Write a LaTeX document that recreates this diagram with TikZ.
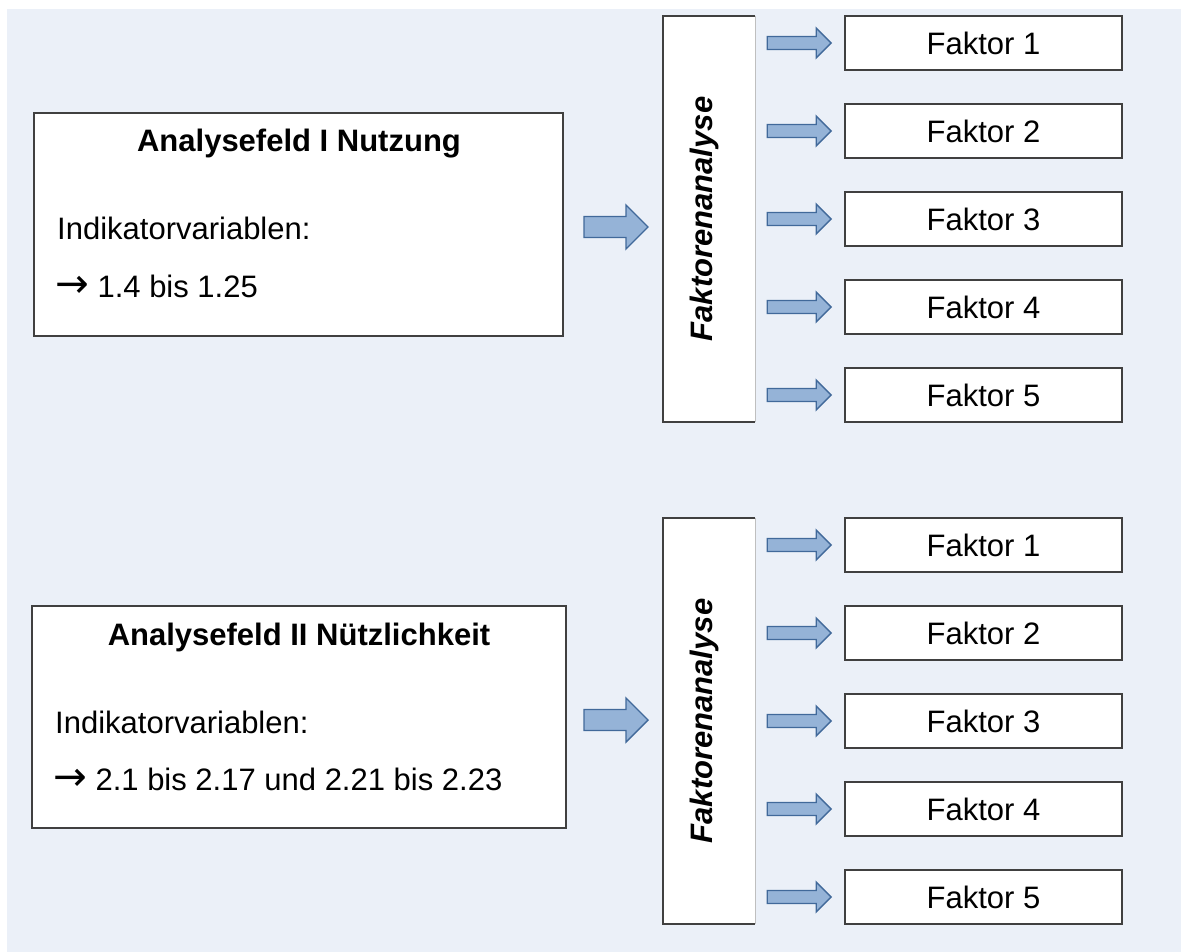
\documentclass[tikz,border=0pt]{standalone}
\usepackage{fontspec}
\setmainfont{Liberation Sans}
\newfontfamily\symfont{DejaVu Sans}
\usetikzlibrary{calc}
\definecolor{bgpanel}{HTML}{EBF0F8}
\definecolor{boxline}{HTML}{404040}
\definecolor{sideline}{HTML}{BFBFBF}
\definecolor{arrowfill}{HTML}{95B3D7}
\definecolor{arrowline}{HTML}{41699A}
\newcommand\txtsize{\fontsize{31}{37}\selectfont}
\newcommand\rarr{\scalebox{1.3}{\symfont →}}
\tikzset{
  panelbox/.style={draw=boxline, line width=1.6pt, fill=white, inner sep=0pt},
  faktorbox/.style={panelbox, minimum width=277pt, minimum height=54pt, font=\txtsize},
  fabox/.style={fill=white, inner sep=0pt, minimum width=92pt, minimum height=406pt},
  label/.style={inner sep=0pt, font=\txtsize},
  blockarrow/.style={fill=arrowfill, draw=arrowline, line width=1.4pt, line join=miter},
  pics/smallarrow/.style={code={
    \path[blockarrow] (0,-6.5) -- (49,-6.5) -- (49,-15) -- (64,0) -- (49,15) -- (49,6.5) -- (0,6.5) -- cycle;}},
  pics/bigarrow/.style={code={
    \path[blockarrow] (0,-10.5) -- (42,-10.5) -- (42,-22) -- (64,0) -- (42,22) -- (42,10.5) -- (0,10.5) -- cycle;}},
}
\begin{document}
\begin{tikzpicture}[x=1pt, y=-1pt]
\useasboundingbox (0,0) rectangle (1181,952);
% light panel behind everything
\fill[bgpanel] (7,9) rectangle (1181,952);

% ---- upper group: Analysefeld I ----
\node[panelbox, minimum width=529pt, minimum height=223pt] (feld1) at (298.5,224.5) {};
\node[label, anchor=base, font=\txtsize\bfseries] (t1) at (299,152) {Analysefeld I Nutzung};
\node[label, anchor=base west] (i1) at (57,240) {Indikatorvariablen:};
\node[label, anchor=base west] (r1) at (55,297) {\rarr\ 1.4 bis 1.25};

\node[fabox] (fa1) at (709,219) {};
\draw[boxline, line width=1.6pt] (fa1.north east) -- (fa1.north west) -- (fa1.south west) -- (fa1.south east);
\draw[sideline, line width=1.2pt] (fa1.north east) -- (fa1.south east);
\node[label, rotate=90, font=\txtsize\bfseries\itshape] at (704,219) {Faktorenanalyse};

\pic at (584,227) {bigarrow};

\foreach \k [count=\i from 0] in {1,...,5} {
  \node[faktorbox] (f1\k) at (983.5,43+88*\i) {Faktor \k};
  \pic at ($(f1\k.west)+(-77,0)$) {smallarrow};
}

% ---- lower group: Analysefeld II ----
\node[panelbox, minimum width=534pt, minimum height=222pt] (feld2) at (299,717) {};
\node[label, anchor=base, font=\txtsize\bfseries] (t2) at (299,645) {Analysefeld II Nützlichkeit};
\node[label, anchor=base west] (i2) at (55,733) {Indikatorvariablen:};
\node[label, anchor=base west] (r2) at (53,790) {\rarr\ 2.1 bis 2.17 und 2.21 bis 2.23};

\node[fabox] (fa2) at (709,721) {};
\draw[boxline, line width=1.6pt] (fa2.north east) -- (fa2.north west) -- (fa2.south west) -- (fa2.south east);
\draw[sideline, line width=1.2pt] (fa2.north east) -- (fa2.south east);
\node[label, rotate=90, font=\txtsize\bfseries\itshape] at (704,721) {Faktorenanalyse};

\pic at (584,720) {bigarrow};

\foreach \k [count=\i from 0] in {1,...,5} {
  \node[faktorbox] (f2\k) at (983.5,545+88*\i) {Faktor \k};
  \pic at ($(f2\k.west)+(-77,0)$) {smallarrow};
}
\end{tikzpicture}
\end{document}
